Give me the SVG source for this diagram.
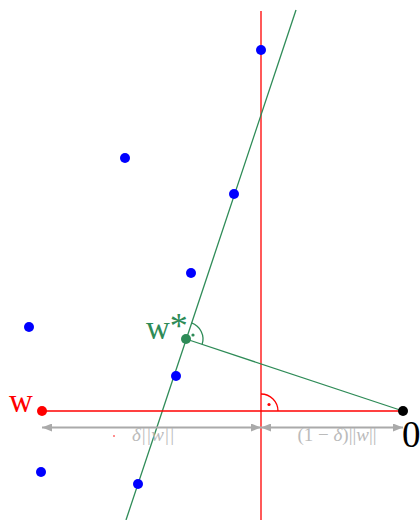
<svg xmlns="http://www.w3.org/2000/svg" width="420" height="520" viewBox="0 0 420 520">
<defs>
<style>
.red{stroke:#ff0000;stroke-width:1.3;fill:none}
.grn{stroke:#2e8b57;stroke-width:1.3;fill:none}
.gry{stroke:#aaaaaa;stroke-width:1.8;fill:none}
.pt{fill:#0000ff}
.lbl{font-family:"Liberation Serif",serif}
.dim{font-family:"Liberation Serif",serif;font-size:19px;fill:#bbbbbb}
</style>
<marker id="ah" viewBox="0 0 10 8" refX="10" refY="4" markerWidth="10" markerHeight="8" markerUnits="userSpaceOnUse" orient="auto-start-reverse">
<path d="M0,0 L10,4 L0,8 Z" fill="#aaaaaa"/>
</marker>
</defs>
<rect width="420" height="520" fill="#ffffff"/>
<g id="connectors">
<line class="red" x1="261" y1="11" x2="261" y2="520"/>
<line class="grn" x1="296" y1="10" x2="126" y2="520"/>
<line class="red" x1="42" y1="411" x2="403" y2="411"/>
<line class="grn" x1="186" y1="339" x2="403" y2="411"/>
<path class="grn" d="M191.4,322.9 A17,17 0 0 1 202.1,344.4"/>
<circle cx="193" cy="335" r="1.6" fill="#2e8b57"/>
<path class="red" d="M261,394 A17,17 0 0 1 278,411"/>
<circle cx="269" cy="404.5" r="1.6" fill="#ff0000"/>
<line class="gry" x1="42" y1="427.5" x2="261" y2="427.5" marker-start="url(#ah)" marker-end="url(#ah)"/>
<line class="gry" x1="261" y1="427.5" x2="403" y2="427.5" marker-start="url(#ah)" marker-end="url(#ah)"/>
</g>
<g id="points">
<circle class="pt" cx="261" cy="50" r="5"/>
<circle class="pt" cx="125" cy="158" r="5"/>
<circle class="pt" cx="234" cy="194" r="5"/>
<circle class="pt" cx="191" cy="273" r="5"/>
<circle class="pt" cx="29" cy="327" r="5"/>
<circle class="pt" cx="176" cy="376" r="5"/>
<circle class="pt" cx="41" cy="472" r="5"/>
<circle class="pt" cx="138" cy="484" r="5"/>
</g>
<g id="w">
<circle cx="42" cy="411" r="5" fill="#ff0000"/>
<text class="lbl" x="9" y="412" font-size="33" fill="#ff0000">w</text>
</g>
<g id="wstar">
<circle cx="186" cy="339" r="5" fill="#2e8b57"/>
<text class="lbl" x="146" y="339" font-size="33" fill="#2e8b57">w<tspan font-size="36" dy="-1">*</tspan></text>
</g>
<g id="origin">
<circle cx="403" cy="411" r="5" fill="#000000"/>
<text class="lbl" x="402" y="447" font-size="37" fill="#000000">0</text>
</g>
<g id="labels">
<circle cx="114" cy="436" r="0.8" fill="#ff0000"/>
<text class="dim" x="132" y="441" font-style="italic">δ||w||</text>
<text class="dim" x="337" y="441" text-anchor="middle">(1 − <tspan font-style="italic">δ</tspan>)||<tspan font-style="italic">w</tspan>||</text>
</g>
</svg>
